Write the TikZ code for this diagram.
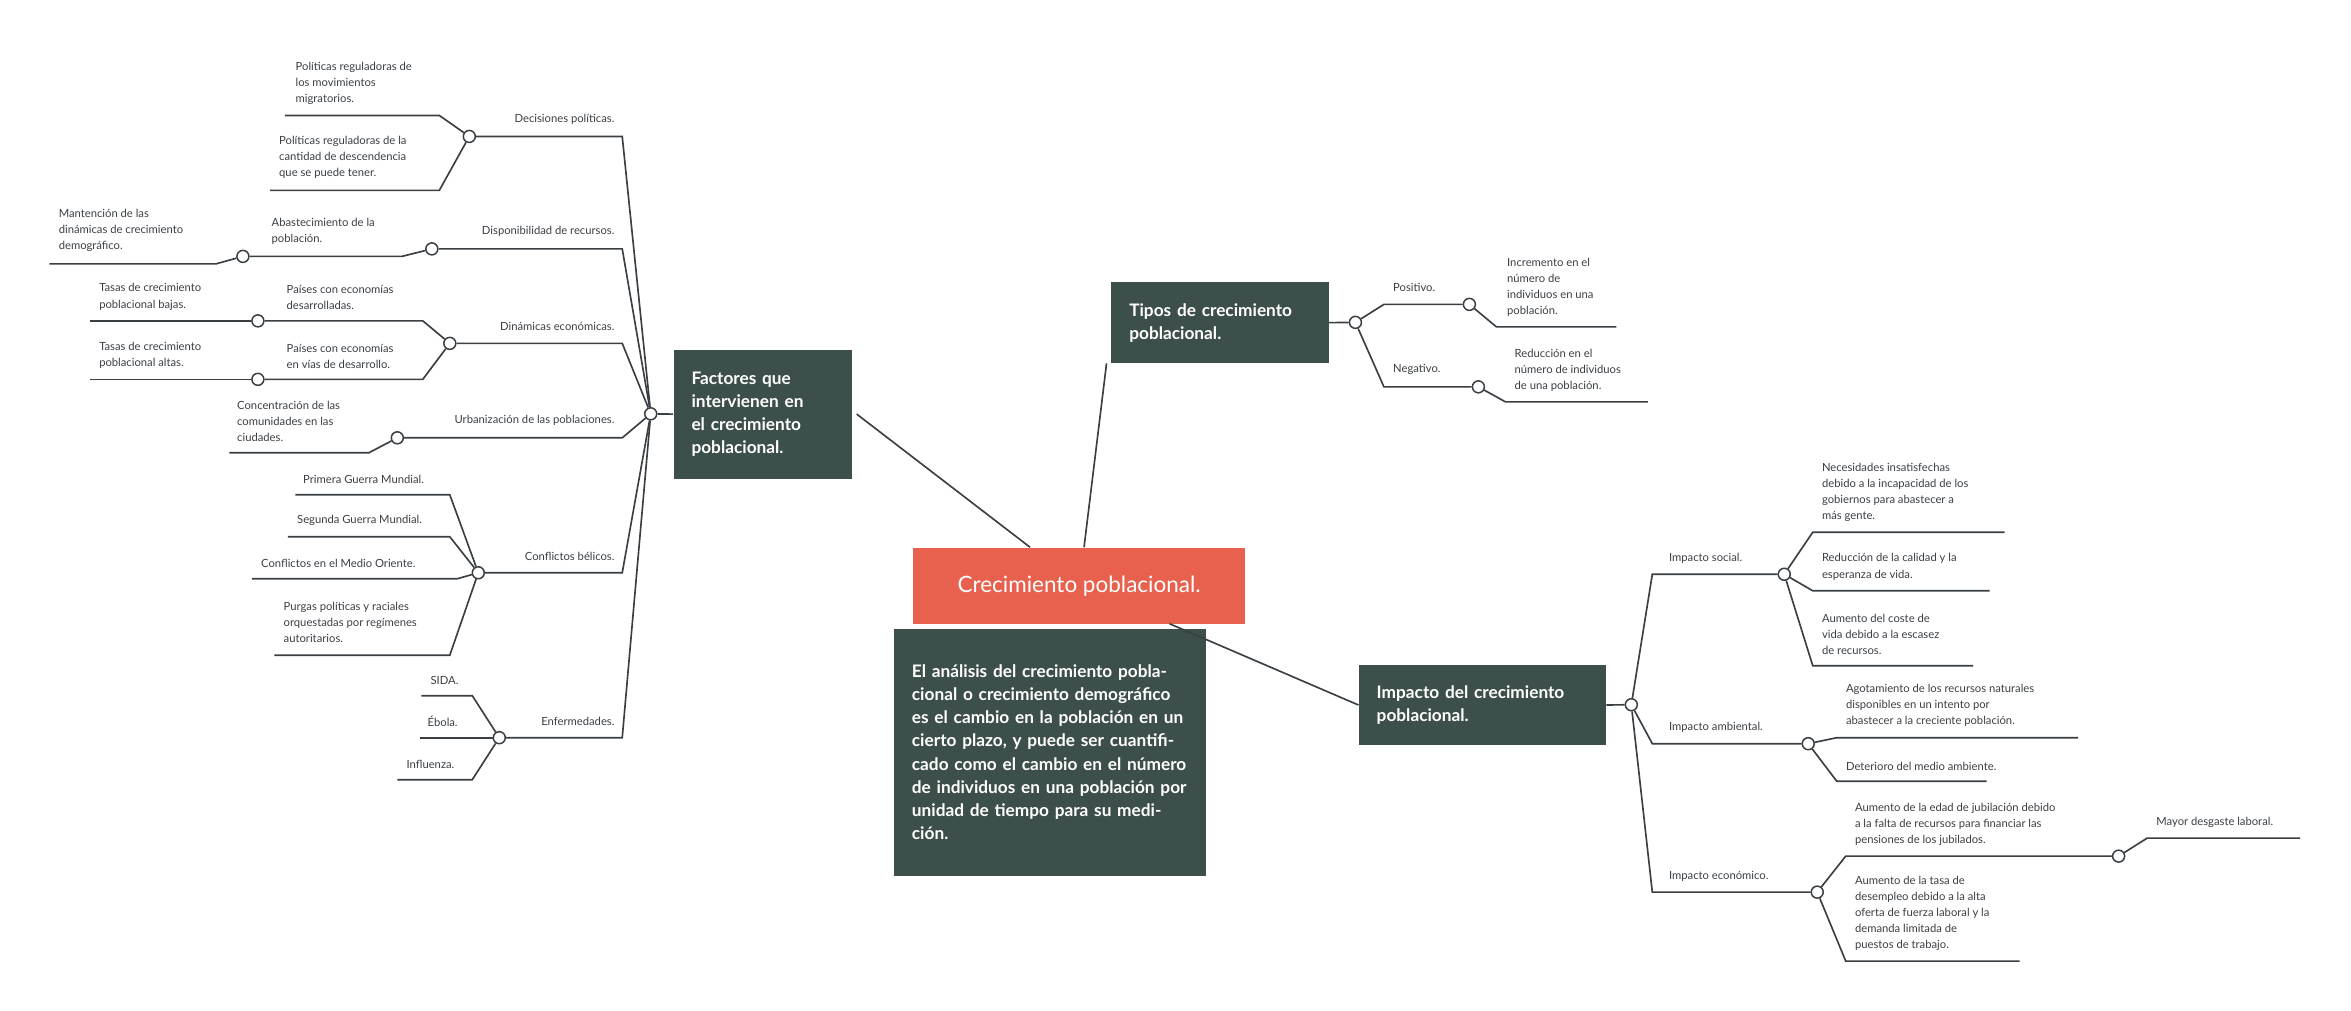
\documentclass[tikz,border=0pt]{standalone}
\usepackage{fontspec}
\setmainfont{Lato}
\definecolor{boxgreen}{HTML}{3D4F4B}
\definecolor{boxred}{HTML}{E8604E}
\definecolor{linegray}{HTML}{3A3F44}
\tikzset{
  box/.style={fill=boxgreen,text=white,font=\fontsize{11.5}{15.5}\selectfont\bfseries,align=left,inner sep=12pt,anchor=north west},
  dot/.style={circle,draw=linegray,fill=white,line width=1pt,minimum size=8pt,inner sep=0pt},
  txt/.style={font=\fontsize{7.5}{10.7}\selectfont,text=linegray,align=left,inner sep=0pt,anchor=south west},
  lbl/.style={font=\fontsize{7.5}{10.7}\selectfont,text=linegray,inner sep=0pt,anchor=south east},
  lnk/.style={draw=linegray,line width=1.1pt}
}
\begin{document}
\begin{tikzpicture}[x=1pt,y=-1pt]
  \useasboundingbox (0,0) rectangle (1568,674);
  % main boxes
  \node[fill=boxred,text=white,font=\fontsize{15}{18}\selectfont,minimum width=221pt,minimum height=51pt,anchor=north west] (cp) at (609,365) {Crecimiento poblacional.};
  \node[box,text width=184pt,minimum height=165pt] (desc) at (596,419) {El análisis del crecimiento poblacional o crecimiento demográfico es el cambio en la población en un cierto plazo, y puede ser cuantificado como el cambio en el número de individuos en una población por unidad de tiempo para su medición.};
  \node[box,text width=95pt,minimum height=86pt] (fac) at (449,233) {Factores que intervienen en el crecimiento poblacional.};
  \node[box,text width=121pt,minimum height=54pt] (tip) at (741,188) {Tipos de crecimiento poblacional.};
  \node[box,text width=141pt,minimum height=54pt] (imp) at (906,443) {Impacto del crecimiento poblacional.};
  \draw[lnk] ([xshift=-33pt]cp.north west -| 720,0) ++(0,0);
  \draw[lnk] (687,365) -- ([xshift=3pt]fac.east);
  \draw[lnk] (723,365) -- ([xshift=-3pt]tip.south west);
  \draw[lnk] (780,416) -- (imp.west);

  % hubs
  \node[dot] (hf) at (434,276) {};
  \node[dot] (ht) at (904,215) {};
  \node[dot] (hi) at (1088,470) {};
  \draw[lnk] (hf) -- (fac.west);
  \draw[lnk] (ht) -- (tip.east);
  \draw[lnk] (hi) -- (imp.east);

  % factores
  \node[dot] (dp) at (313,91) {};
  \node[dot] (dr) at (288,166) {};
  \node[dot] (de) at (300,229) {};
  \node[dot] (ub) at (265,292) {};
  \node[dot] (cb) at (319,382) {};
  \node[dot] (en) at (333,492) {};
  \draw[lnk] (hf) -- (415,91) -- (dp);
  \draw[lnk] (hf) -- (415,166) -- (dr);
  \draw[lnk] (hf) -- (415,229) -- (de);
  \draw[lnk] (hf) -- (415,292) -- (ub);
  \draw[lnk] (hf) -- (415,382) -- (cb);
  \draw[lnk] (hf) -- (415,492) -- (en);
  \node[lbl] at (410,83) {Decisiones políticas.};
  \node[lbl] at (410,158) {Disponibilidad de recursos.};
  \node[lbl] at (410,221) {Dinámicas económicas.};
  \node[lbl] at (410,284) {Urbanización de las poblaciones.};
  \node[lbl] at (410,374) {Conflictos bélicos.};
  \node[lbl] at (410,484) {Enfermedades.};

  \draw[lnk] (dp) -- (293,77) -- (190,77);
  \draw[lnk] (dp) -- (293,127) -- (180,127);
  \node[txt] at (197,70) {Políticas reguladoras de\\los movimientos\\migratorios.};
  \node[txt] at (186,119) {Políticas reguladoras de la\\cantidad de descendencia\\que se puede tener.};

  \node[dot] (ab) at (162,171) {};
  \draw[lnk] (dr) -- (268,171) -- (ab);
  \draw[lnk] (ab) -- (144,176) -- (33,176);
  \node[txt] at (181,163) {Abastecimiento de la\\población.};
  \node[txt] at (39,168) {Mantención de las\\dinámicas de crecimiento\\demográfico.};

  \node[dot] (pd) at (172,214) {};
  \node[dot] (pv) at (172,253) {};
  \draw[lnk] (de) -- (282,214) -- (pd);
  \draw[lnk] (de) -- (282,253) -- (pv);
  \draw[lnk] (pd) -- (60,214);
  \draw[lnk] (pv) -- (60,253);
  \node[txt] at (191,207) {Países con economías\\desarrolladas.};
  \node[txt] at (191,246) {Países con economías\\en vías de desarrollo.};
  \node[txt] at (66,207) {Tasas de crecimiento\\poblacional bajas.};
  \node[txt] at (66,246) {Tasas de crecimiento\\poblacional altas.};

  \draw[lnk] (ub) -- (246,302) -- (153,302);
  \node[txt] at (158,295) {Concentración de las\\comunidades en las\\ciudades.};

  \draw[lnk] (cb) -- (300,330) -- (197,330);
  \draw[lnk] (cb) -- (300,358) -- (192,358);
  \draw[lnk] (cb) -- (305,386) -- (168,386);
  \draw[lnk] (cb) -- (300,437) -- (183,437);
  \node[txt] at (202,323) {Primera Guerra Mundial.};
  \node[txt] at (198,351) {Segunda Guerra Mundial.};
  \node[txt] at (174,379) {Conflictos en el Medio Oriente.};
  \node[txt] at (189,429) {Purgas políticas y raciales\\orquestadas por regímenes\\autoritarios.};

  \draw[lnk] (en) -- (315,464) -- (281,464);
  \draw[lnk] (en) -- (280,492);
  \draw[lnk] (en) -- (315,520) -- (265,520);
  \node[txt] at (287,457) {SIDA.};
  \node[txt] at (285,485) {Ébola.};
  \node[txt] at (271,513) {Influenza.};

  % tipos
  \node[dot] (po) at (980,203) {};
  \node[dot] (ne) at (986,258) {};
  \draw[lnk] (ht) -- (923,203) -- (po);
  \draw[lnk] (ht) -- (923,258) -- (ne);
  \node[txt] at (929,195) {Positivo.};
  \node[txt] at (929,250) {Negativo.};
  \draw[lnk] (po) -- (998,218) -- (1078,218);
  \draw[lnk] (ne) -- (1004,268) -- (1099,268);
  \node[txt] at (1005,211) {Incremento en el\\número de\\individuos en una\\población.};
  \node[txt] at (1010,261) {Reducción en el\\número de individuos\\de una población.};

  % impacto
  \node[dot] (so) at (1190,383) {};
  \node[dot] (am) at (1206,496) {};
  \node[dot] (ec) at (1212,595) {};
  \draw[lnk] (hi) -- (1102,383) -- (so);
  \draw[lnk] (hi) -- (1102,496) -- (am);
  \draw[lnk] (hi) -- (1102,595) -- (ec);
  \node[txt] at (1113,376) {Impacto social.};
  \node[txt] at (1113,489) {Impacto ambiental.};
  \node[txt] at (1113,588) {Impacto económico.};

  \draw[lnk] (so) -- (1209,355) -- (1337,355);
  \draw[lnk] (so) -- (1209,394) -- (1327,394);
  \draw[lnk] (so) -- (1209,444) -- (1316,444);
  \node[txt] at (1215,348) {Necesidades insatisfechas\\debido a la incapacidad de los\\gobiernos para abastecer a\\más gente.};
  \node[txt] at (1215,387) {Reducción de la calidad y la\\esperanza de vida.};
  \node[txt] at (1215,437) {Aumento del coste de\\vida debido a la escasez\\de recursos.};

  \draw[lnk] (am) -- (1225,492) -- (1386,492);
  \draw[lnk] (am) -- (1225,521) -- (1325,521);
  \node[txt] at (1231,485) {Agotamiento de los recursos naturales\\disponibles en un intento por\\abastecer a la creciente población.};
  \node[txt] at (1231,514) {Deterioro del medio ambiente.};

  \node[dot] (ju) at (1413,571) {};
  \draw[lnk] (ec) -- (1231,571) -- (ju);
  \draw[lnk] (ec) -- (1231,641) -- (1347,641);
  \draw[lnk] (ju) -- (1432,559) -- (1534,559);
  \node[txt] at (1237,564) {Aumento de la edad de jubilación debido\\a la falta de recursos para financiar las\\pensiones de los jubilados.};
  \node[txt] at (1237,634) {Aumento de la tasa de\\desempleo debido a la alta\\oferta de fuerza laboral y la\\demanda limitada de\\puestos de trabajo.};
  \node[txt] at (1438,552) {Mayor desgaste laboral.};
\end{tikzpicture}
\end{document}
